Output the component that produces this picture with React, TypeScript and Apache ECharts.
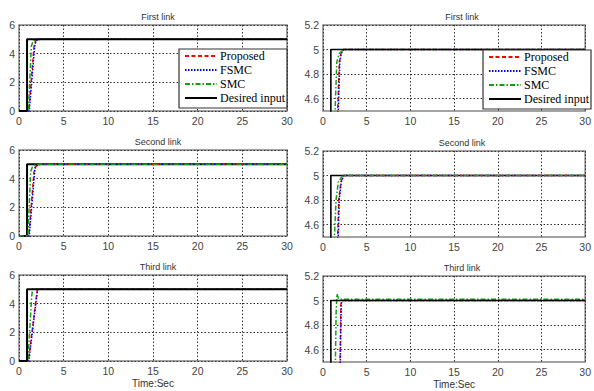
import React, { useEffect, useRef } from "react";
import * as echarts from "echarts";

const linkTitles = ["First link", "Second link", "Third link"];
const seriesNames = ["Proposed", "FSMC", "SMC", "Desired input"];
const timeAxisName = "Time:Sec";
const rightYTicks = [4.6, 4.8, 5, 5.2];

// [time, value]
const desiredInput = [[0, 0], [0.9, 0], [0.9, 5], [30, 5]];

const proposed1 = [[0, 0], [1.1, 0], [1.68, 4.5], [1.87, 4.9], [2.05, 4.97], [2.3, 5], [30, 5]];
const fsmc1 = [[0, 0], [1.15, 0], [1.75, 4.5], [1.92, 4.9], [2.1, 4.97], [2.35, 5], [30, 5]];
const smc1 = [[0, 0], [1.05, 0], [1.38, 4.5], [1.58, 4.9], [1.87, 4.97], [2.4, 5], [30, 5]];

const proposed2 = [[0, 0], [1.1, 0], [1.68, 4.5], [1.8, 4.8], [2.05, 4.95], [2.35, 5], [30, 5]];
const fsmc2 = [[0, 0], [1.15, 0], [1.75, 4.5], [1.85, 4.8], [2.1, 4.95], [2.4, 5], [30, 5]];
const smc2 = [[0, 0], [1.0, 0], [1.31, 4.5], [1.49, 4.8], [1.76, 4.95], [2.25, 5], [30, 5]];

const proposed3 = [[0, 0], [1.05, 0], [1.95, 4.5], [2.05, 4.97], [2.15, 5], [30, 5]];
const fsmc3 = [[0, 0], [1.1, 0], [1.98, 4.5], [2.08, 4.97], [2.18, 5], [30, 5]];
const smc3 = [[0, 0], [1.0, 0], [1.42, 4.5], [1.5, 4.9], [1.6, 5.055], [1.75, 5.02], [1.9, 5.01], [30, 5.01]];

const rows = [
  { proposed: proposed1, fsmc: fsmc1, smc: smc1, desiredOnTop: true },
  { proposed: proposed2, fsmc: fsmc2, smc: smc2, desiredOnTop: false },
  { proposed: proposed3, fsmc: fsmc3, smc: smc3, desiredOnTop: true },
];

export default function App() {
  const ref = useRef<HTMLDivElement>(null);
  useEffect(() => {
    if (!ref.current) return;
    const chart = echarts.init(ref.current, null, { renderer: "svg" });

    const leftTops = [25, 150, 275];
    const rightTops = [25, 151, 276];
    const grids: any[] = [];
    const xAxes: any[] = [];
    const yAxes: any[] = [];
    const series: any[] = [];
    const titles: any[] = [];

    const axisLabelStyle = { color: "#444", fontSize: 10.5, fontFamily: "Liberation Sans, Arial, sans-serif" };
    const splitLine = { show: true, lineStyle: { color: "#333", width: 1, type: [1.5, 2] } };

    for (let r = 0; r < 3; r++) {
      for (let c = 0; c < 2; c++) {
        const gi = r * 2 + c;
        const left = c === 0 ? 19 : 323;
        const top = c === 0 ? leftTops[r] : rightTops[r];
        grids.push({
          left, top, width: 268, height: 86,
          show: true, borderColor: "#858585", borderWidth: 1.5, backgroundColor: "#fff",
        });
        xAxes.push({
          type: "value", gridIndex: gi, min: 0, max: 30, interval: 5,
          axisLine: { show: false }, axisTick: { show: false },
          axisLabel: { ...axisLabelStyle, margin: 4 },
          splitLine,
          name: r === 2 ? timeAxisName : "",
          nameLocation: "middle", nameGap: 17,
          nameTextStyle: { color: "#333", fontSize: 10, fontFamily: "Liberation Sans, Arial, sans-serif" },
        });
        if (c === 0) {
          yAxes.push({
            type: "value", gridIndex: gi, min: 0, max: 6, interval: 2,
            axisLine: { show: false }, axisTick: { show: false },
            axisLabel: { ...axisLabelStyle, margin: 4 },
            splitLine,
          });
        } else {
          yAxes.push({
            type: "value", gridIndex: gi, min: 4.5, max: 5.2,
            axisLine: { show: false },
            axisTick: { show: false, customValues: rightYTicks },
            axisLabel: { ...axisLabelStyle, margin: 4, customValues: rightYTicks },
            splitLine,
          });
        }
        titles.push({
          text: linkTitles[r], left: left + 134, top: top - 18, textAlign: "center",
          textStyle: { fontSize: 9, fontWeight: "normal", color: "#333", fontFamily: "Liberation Sans, Arial, sans-serif" },
        });

        const row = rows[r];
        const mk = (name: string, data: number[][], color: string, width: number, type: any, z: number) => ({
          type: "line", name, data, xAxisIndex: gi, yAxisIndex: gi,
          symbol: "none", showSymbol: false, clip: true, z,
          lineStyle: { color, width, type }, itemStyle: { color },
          emphasis: { disabled: true },
        });
        const blackWidth = c === 0 ? 2 : 1.6;
        const dz = row.desiredOnTop ? 6 : 2;
        series.push(mk(seriesNames[0], row.proposed, "#ff0000", 1.5, [4, 2.5], 3));
        series.push(mk(seriesNames[1], row.fsmc, "#0000ff", 1.5, [1.5, 1.5], 4));
        series.push(mk(seriesNames[2], row.smc, "#10a010", 1.5, [5, 2, 1.5, 2], 5));
        series.push(mk(seriesNames[3], desiredInput, "#000000", blackWidth, "solid", dz));
      }
    }

    const legendBase = {
      orient: "vertical", top: 49, itemWidth: 32, itemHeight: 12, itemGap: 2,
      padding: [1, 2, 4, 5], backgroundColor: "#fff", borderColor: "#333", borderWidth: 1.2,
      textStyle: { fontFamily: "Liberation Serif, Times New Roman, serif", fontSize: 12, color: "#000", padding: [0, 0, 0, -2] },
      itemStyle: { opacity: 0 }, data: seriesNames, selectedMode: false, z: 10,
    };

    chart.setOption({
      animation: false,
      backgroundColor: "#fff",
      title: titles,
      grid: grids,
      xAxis: xAxes,
      yAxis: yAxes,
      legend: [
        { ...legendBase, right: 307 },
        { ...legendBase, right: 3, top: 50 },
      ],
      series,
    });
    return () => chart.dispose();
  }, []);
  return <div ref={ref} style={{ position: "fixed", left: 0, top: 0, width: 594, height: 391 }} />;
}
